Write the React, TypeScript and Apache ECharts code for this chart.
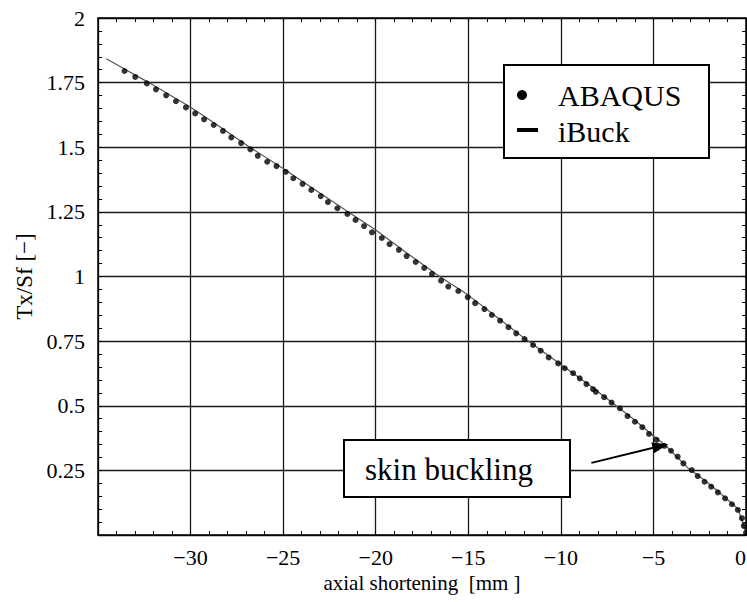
import React, { useEffect, useRef } from "react";
import * as echarts from "echarts";

// ABAQUS (dots)
const abaqusX = [
  -33.57, -32.99, -32.36, -31.87, -31.32, -30.79, -30.25, -29.75, -29.27, -28.75, -28.25, -27.8, -27.27, -26.77, -26.37,
  -25.86, -25.36, -24.86, -24.45, -23.95, -23.48, -22.97, -22.58, -22.07, -21.53, -21.09, -20.63, -20.2, -19.67, -19.25,
  -18.75, -18.33, -17.84, -17.38, -16.96, -16.47, -16.08, -15.54, -15.03, -14.63, -14.13, -13.73, -13.28, -12.83, -12.41,
  -11.96, -11.5, -11.09, -10.66, -10.15, -9.79, -9.34, -8.98, -8.62, -8.26, -8.11, -7.66, -7.26, -6.81, -6.4, -6.0, -5.6,
  -5.24, -4.83, -4.41, -4.05, -3.69, -3.38, -2.93, -2.61, -2.24, -1.88, -1.52, -1.13, -0.76, -0.44, -0.22, -0.12, 0,
];
const abaqusY = [
  1.795, 1.772, 1.747, 1.724, 1.701, 1.678, 1.654, 1.631, 1.608, 1.586, 1.563, 1.538, 1.516, 1.492, 1.467,
  1.444, 1.427, 1.405, 1.38, 1.358, 1.335, 1.311, 1.288, 1.264, 1.242, 1.219, 1.195, 1.171, 1.149, 1.125,
  1.103, 1.079, 1.056, 1.033, 1.01, 0.984, 0.961, 0.944, 0.92, 0.897, 0.874, 0.851, 0.829, 0.804, 0.78,
  0.758, 0.735, 0.713, 0.687, 0.664, 0.645, 0.626, 0.606, 0.584, 0.564, 0.554, 0.533, 0.512, 0.49, 0.46, 0.438, 0.417,
  0.391, 0.368, 0.345, 0.326, 0.303, 0.277, 0.251, 0.228, 0.206, 0.187, 0.165, 0.142, 0.119, 0.097, 0.065, 0.035, 0.008,
];

// iBuck (line)
const ibuckX = [-34.55, -33.5, -32.3, -31, -30, -28.8, -26.8, -25, -23, -21.6, -20, -18.3, -16.65, -15, -13.5, -11.8, -10, -8.5, -7.1, -6, -5, -4.4, -3.1, -2.2, -1.5, -0.76, -0.42, -0.13, 0];
const ibuckY = [1.842, 1.8, 1.752, 1.697, 1.655, 1.598, 1.5, 1.418, 1.322, 1.255, 1.18, 1.09, 1.005, 0.928, 0.845, 0.752, 0.66, 0.582, 0.505, 0.444, 0.383, 0.35, 0.257, 0.21, 0.168, 0.122, 0.1, 0.036, 0.006];

const seriesNames = ["ABAQUS", "iBuck"];
const xAxisTitle = "axial shortening  [mm ]";
const yAxisTitle = "Tx/Sf [\u2212]";
const annotationText = "skin buckling";
const arrowFrom = [-8.35, 0.279];
const arrowTo = [-4.62, 0.344];

const FONT = "Liberation Serif, serif";

export default function App() {
  const ref = useRef<HTMLDivElement>(null);
  useEffect(() => {
    if (!ref.current) return;
    const chart = echarts.init(ref.current, null, { renderer: "svg" });
    const axisCommon = {
      type: "value" as const,
      axisLine: { show: true, onZero: false, lineStyle: { color: "#000", width: 1.5 } },
      axisTick: { show: true, inside: true, length: 4, lineStyle: { color: "#000", width: 1 } },
      minorTick: { show: true, splitNumber: 5, length: 4, lineStyle: { color: "#000", width: 1 } },
      splitLine: { show: false },
    };
    chart.setOption({
      animation: false,
      backgroundColor: "#fff",
      grid: { left: 98, right: 1, top: 18, bottom: 67, containLabel: false, outerBoundsMode: "none" },
      xAxis: [
        {
          ...axisCommon,
          position: "bottom",
          min: -35,
          max: 0,
          interval: 5,
          splitLine: { show: true, lineStyle: { color: "#1a1a1a", width: 1.3 } },
          axisLabel: {
            margin: 11,
            fontFamily: FONT,
            fontSize: 22,
            color: "#000",
            alignMaxLabel: "right",
            formatter: (v: number) => (v === -35 ? "" : v < 0 ? "\u2212" + Math.abs(v) : String(v)),
          },
          name: xAxisTitle,
          nameLocation: "middle",
          nameGap: 36,
          nameTextStyle: { fontFamily: FONT, fontSize: 21, color: "#000" },
        },
        {
          ...axisCommon,
          position: "top",
          min: -35,
          max: 0,
          interval: 5,
          axisLabel: { show: false },
        },
      ],
      yAxis: [
        {
          ...axisCommon,
          position: "left",
          min: 0,
          max: 2,
          interval: 0.25,
          splitLine: { show: true, lineStyle: { color: "#1a1a1a", width: 1.3 } },
          axisLabel: {
            margin: 13,
            fontFamily: FONT,
            fontSize: 22,
            color: "#000",
            formatter: (v: number) => (v === 0 ? "" : String(v)),
          },
          name: yAxisTitle,
          nameLocation: "middle",
          nameGap: 61,
          nameTextStyle: { fontFamily: FONT, fontSize: 23, color: "#000" },
        },
        {
          ...axisCommon,
          position: "right",
          min: 0,
          max: 2,
          interval: 0.25,
          axisLabel: { show: false },
        },
      ],
      series: [
        {
          name: seriesNames[1],
          type: "line",
          data: ibuckX.map((x, i) => [x, ibuckY[i]]),
          showSymbol: false,
          symbol: "none",
          lineStyle: { color: "#555", width: 1.2 },
          z: 3,
          markLine: {
            silent: true,
            symbol: ["none", "triangle"],
            symbolSize: [11, 16],
            label: { show: false },
            lineStyle: { color: "#000", width: 2, type: "solid" },
            data: [[{ coord: arrowFrom }, { coord: arrowTo }]],
          },
        },
        {
          name: seriesNames[0],
          type: "scatter",
          data: abaqusX.map((x, i) => [x, abaqusY[i]]),
          symbol: "circle",
          symbolSize: 6,
          itemStyle: { color: "#000" },
          z: 4,
        },
      ],
      graphic: [
        {
          type: "rect",
          z: 100,
          shape: { x: 504, y: 65, width: 205, height: 93 },
          style: { fill: "#fff", stroke: "#000", lineWidth: 2 },
        },
        { type: "circle", z: 101, shape: { cx: 522, cy: 95, r: 5 }, style: { fill: "#000" } },
        { type: "rect", z: 101, shape: { x: 517, y: 128, width: 21, height: 4 }, style: { fill: "#000" } },
        {
          type: "text",
          z: 101,
          style: { text: seriesNames[0], x: 558, y: 95, font: `30px ${FONT}`, fill: "#000", verticalAlign: "middle" },
        },
        {
          type: "text",
          z: 101,
          style: { text: seriesNames[1], x: 558, y: 131, font: `30px ${FONT}`, fill: "#000", verticalAlign: "middle" },
        },
        {
          type: "rect",
          z: 100,
          shape: { x: 344, y: 440, width: 226, height: 57 },
          style: { fill: "#fff", stroke: "#000", lineWidth: 2 },
        },
        {
          type: "text",
          z: 101,
          style: { text: annotationText, x: 365, y: 469, font: `31px ${FONT}`, fill: "#000", verticalAlign: "middle" },
        },
      ],
    });
    return () => chart.dispose();
  }, []);
  return <div ref={ref} style={{ position: "fixed", left: 0, top: 0, width: 747, height: 602 }} />;
}
